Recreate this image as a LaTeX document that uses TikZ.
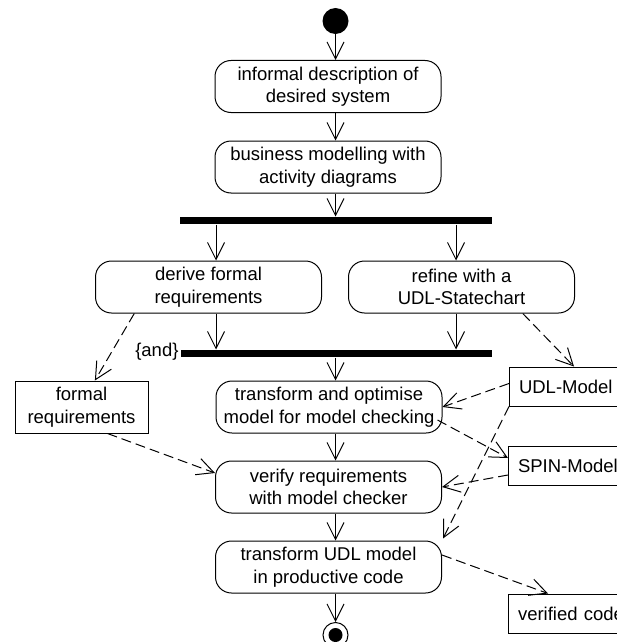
\documentclass[tikz,border=0pt]{standalone}
\usepackage{fontspec}
\setmainfont{Liberation Sans}
\usetikzlibrary{arrows.meta,calc}

\begin{document}
\begin{tikzpicture}[x=1pt,y=-1pt,
  font=\fontsize{18.5}{22.5}\selectfont,
  line width=1pt,
  act/.style={draw,rounded corners=16pt,minimum width=226pt,minimum height=52pt,
    align=center,inner sep=0pt},
  obj/.style={draw,rectangle,minimum height=39pt,inner ysep=0pt,inner xsep=9.5pt,
    text width=112pt,align=left,anchor=west},
  reqbox/.style={draw,rectangle,minimum width=133pt,minimum height=52pt,
    align=center,inner sep=0pt},
  syncbar/.style={fill=black,minimum width=312pt,minimum height=7pt,inner sep=0pt},
  flow/.style={-{Straight Barb[length=17pt,width=17pt]}},
  dep/.style={flow,dash pattern=on 10pt off 5pt}]

\useasboundingbox (0,0) rectangle (617,642);
\fill[white] (0,0) rectangle (617,642);
\clip (0,0) rectangle (617,642);

% control flow nodes
\node[circle,fill=black,minimum size=26pt,inner sep=0pt] (start) at (335.5,21) {};
\node[act] (desc)   at (328,86.5)  {informal description of\\desired system};
\node[act] (biz)    at (328,167)   {business modelling with\\activity diagrams};
\node[syncbar] (fork) at (336,220.5) {};
\node[act] (derive) at (208.5,287) {derive formal\\requirements};
\node[act] (refine) at (461.5,287) {refine with a\\UDL-Statechart};
\node[syncbar,minimum width=311pt] (join) at (336.5,353.5) {};
\node[anchor=east,inner sep=0pt] (andlbl) at (179,352) {\{and\}};
\node[act] (optim)  at (329,407)   {transform and optimise\\model for model checking};
\node[act] (verify) at (328.5,487) {verify requirements\\with model checker};
\node[act] (codegen) at (328.5,567) {transform UDL model\\in productive code};
\node[circle,draw,minimum size=25pt,inner sep=0pt] (final) at (335.5,635) {};
\fill (final) circle (7pt);

% object nodes
\node[reqbox] (formal) at (81.5,407) {formal\\requirements};
\node[obj] (udl)  at (509,386.5) {UDL-Model};
\node[obj] (spin) at (508,466)   {SPIN-Model};
\node[obj] (vcode) at (508,613.5) {verified code};

% control flow
\draw[flow] (start) -- (desc.north -| start);
\draw[flow] (desc.south -| start) -- (biz.north -| start);
\draw[flow] (biz.south -| start) -- (fork.north -| start);
\draw[flow] (fork.south -| 216,0) -- (derive.north -| 216,0);
\draw[flow] (fork.south -| 456,0) -- (refine.north -| 456,0);
\draw[flow] (derive.south -| 216,0) -- (join.north -| 216,0);
\draw[flow] (refine.south -| 456,0) -- (join.north -| 456,0);
\draw[flow] (join.south -| start) -- (optim.north -| start);
\draw[flow] (optim.south -| start) -- (verify.north -| start);
\draw[flow] (verify.south -| start) -- (codegen.north -| start);
\draw[flow] (codegen.south -| start) -- (final);

% object flow
\draw[dep] ($(derive.south west)!0.173!(derive.south east)$)
        -- ($(formal.north west)!0.6!(formal.north east)$);
\draw[dep] ($(refine.south west)!0.77!(refine.south east)$)
        -- ([xshift=65pt]udl.north west);
\draw[dep] ([yshift=3pt]udl.west) -- (optim.east);
\draw[dep] (udl.south west) -- ([xshift=1pt,yshift=2pt]codegen.north east);
\draw[dep] ([xshift=-5pt,yshift=-13pt]optim.east) -- ([yshift=8pt]spin.west);
\draw[dep] ([yshift=-9pt]spin.west) -- (verify.east);
\draw[dep] ([xshift=93pt]formal.south west) -- ([yshift=14pt]verify.west);
\draw[dep] ([yshift=12pt]codegen.east) -- ([xshift=40pt]vcode.north west);
\end{tikzpicture}
\end{document}
